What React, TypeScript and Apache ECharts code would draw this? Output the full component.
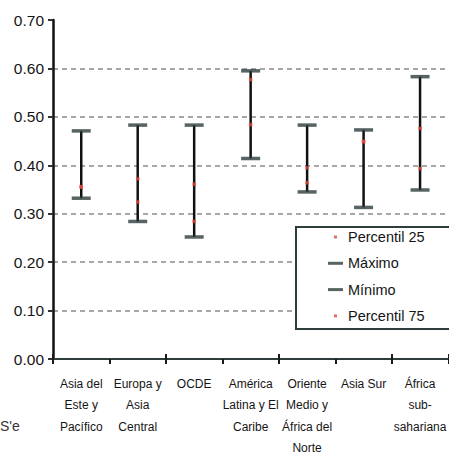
import React, { useEffect, useRef } from "react";
import * as echarts from "echarts";

const categories = [
  "Asia del\nEste y\nPacífico",
  "Europa y\nAsia\nCentral",
  "OCDE",
  "América\nLatina y El\nCaribe",
  "Oriente\nMedio y\nÁfrica del\nNorte",
  "Asia Sur",
  "África\nsub-\nsahariana",
];
const maxValues = [0.471, 0.483, 0.483, 0.595, 0.483, 0.473, 0.583];
const minValues = [0.332, 0.284, 0.252, 0.414, 0.345, 0.313, 0.349];
const p25Values = [0.355, 0.324, 0.284, 0.484, 0.364, 0.449, 0.393];
const p75Values = [0.356, 0.372, 0.361, 0.577, 0.395, 0.449, 0.476];
const yTicks = [0, 0.7, 0.1];

const FONT = '"Liberation Sans", Arial, sans-serif';
const CAP = "#2e3c3c";
const RED = "#e5483c";
const TEXT = "#151515";

const dashIcon = "path://M0,0L0,0M0,6h15v3h-15zM15,15L15,15";
const dotIcon = "path://M0,0L0,0M6,6h3v3h-3zM15,15L15,15";

export default function App() {
  const ref = useRef<HTMLDivElement>(null);
  useEffect(() => {
    if (!ref.current) return;
    const chart = echarts.init(ref.current, null, { renderer: "svg" });
    const whiskerData = categories.map((_, i) => [i, maxValues[i], minValues[i]]);
    chart.setOption({
      animation: false,
      backgroundColor: "#ffffff",
      textStyle: { fontFamily: FONT },
      grid: { left: 53, top: 20, bottom: 95, right: -5, containLabel: false },
      xAxis: [
        {
          type: "category",
          data: categories,
          position: "bottom",
          axisLine: { show: true, lineStyle: { color: CAP, width: 2 } },
          axisTick: { show: true, inside: false, length: 5, lineStyle: { color: "#1a1a1a", width: 2 } },
          axisLabel: {
            interval: 0,
            fontFamily: FONT,
            fontSize: 12,
            lineHeight: 21.5,
            color: TEXT,
            margin: 14,
          },
          splitLine: { show: false },
        },
        {
          type: "category",
          data: categories,
          position: "bottom",
          axisLine: { show: false },
          axisTick: { show: true, inside: true, length: 5, lineStyle: { color: "#1a1a1a", width: 2 } },
          axisLabel: { show: false },
          splitLine: { show: false },
        },
      ],
      yAxis: {
        type: "value",
        min: yTicks[0],
        max: yTicks[1],
        interval: yTicks[2],
        axisLine: { show: true, lineStyle: { color: "#111", width: 2.5 } },
        axisTick: { show: true, length: 5, lineStyle: { color: "#333", width: 2 } },
        axisLabel: {
          fontFamily: FONT,
          fontSize: 15.5,
          color: TEXT,
          margin: 9,
          formatter: (v: number) => v.toFixed(2),
        },
        splitLine: {
          show: true,
          showMinLine: false,
          showMaxLine: false,
          lineStyle: { color: "#8a8a8a", width: 1.5, type: [5, 4] },
        },
      },
      legend: {
        orient: "vertical",
        left: 328,
        top: 229,
        padding: 0,
        itemWidth: 15,
        itemHeight: 15,
        itemGap: 10.3,
        selectedMode: false,
        z: 10,
        textStyle: { fontFamily: FONT, fontSize: 14.5, color: TEXT, lineHeight: 16 },
        data: [
          { name: "Percentil 25", icon: dotIcon, itemStyle: { color: RED } },
          { name: "Máximo", icon: dashIcon, itemStyle: { color: CAP } },
          { name: "Mínimo", icon: dashIcon, itemStyle: { color: CAP } },
          { name: "Percentil 75", icon: dotIcon, itemStyle: { color: RED } },
        ],
      },
      graphic: [
        {
          type: "rect",
          z: 5,
          shape: { x: 296, y: 227, width: 170, height: 102 },
          style: { fill: "#ffffff", stroke: CAP, lineWidth: 2 },
        },
        {
          type: "text",
          z: 5,
          left: 0,
          top: 419,
          style: { text: "S'e", fontFamily: FONT, fontSize: 14, fill: "#333" },
        },
      ],
      series: [
        {
          type: "custom",
          name: "rango",
          z: 2,
          renderItem: (params: any, api: any) => {
            const x = api.value(0);
            const top = api.coord([x, api.value(1)]);
            const bot = api.coord([x, api.value(2)]);
            return {
              type: "line",
              shape: { x1: top[0], y1: top[1], x2: bot[0], y2: bot[1] },
              style: { stroke: "#111", lineWidth: 2.5 },
            };
          },
          encode: { x: 0, y: [1, 2] },
          data: whiskerData,
        },
        {
          type: "scatter",
          name: "Máximo",
          symbol: "rect",
          symbolSize: [19, 3.5],
          itemStyle: { color: CAP },
          z: 3,
          data: maxValues,
        },
        {
          type: "scatter",
          name: "Mínimo",
          symbol: "rect",
          symbolSize: [19, 3.5],
          itemStyle: { color: CAP },
          z: 3,
          data: minValues,
        },
        {
          type: "scatter",
          name: "Percentil 25",
          symbol: "rect",
          symbolSize: 3.5,
          itemStyle: { color: RED },
          z: 4,
          data: p25Values,
        },
        {
          type: "scatter",
          name: "Percentil 75",
          symbol: "rect",
          symbolSize: 3.5,
          itemStyle: { color: RED },
          z: 4,
          data: p75Values,
        },
      ],
    });
    return () => chart.dispose();
  }, []);
  return (
    <div
      ref={ref}
      style={{ position: "absolute", left: 0, top: 0, width: 449, height: 459, background: "#fff" }}
    />
  );
}
